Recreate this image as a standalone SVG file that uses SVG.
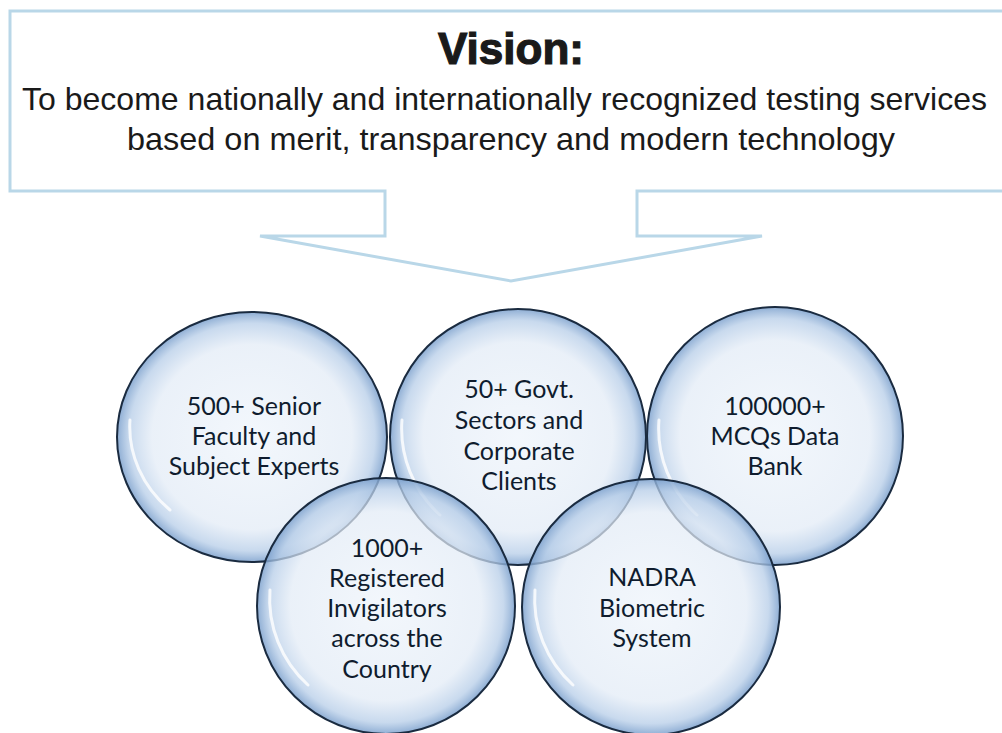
<svg xmlns="http://www.w3.org/2000/svg" width="1002" height="733" viewBox="0 0 1002 733">
<defs>
<radialGradient id="bub" cx="50%" cy="50%" r="50%">
<stop offset="0%" stop-color="#eef4fb" stop-opacity="0.72"/>
<stop offset="74%" stop-color="#e2ebf6" stop-opacity="0.72"/>
<stop offset="91%" stop-color="#b6cde8" stop-opacity="0.75"/>
<stop offset="100%" stop-color="#7a9fcc" stop-opacity="0.85"/>
</radialGradient>
</defs>
<style>
.box{fill:#ffffff;stroke:#b9d7e8;stroke-width:3}
.title{font-family:"Liberation Sans",Arial,sans-serif;font-weight:bold;font-size:44px;fill:#1a1a1a;stroke:#1a1a1a;stroke-width:1.2;text-anchor:middle}
.body{font-family:"Liberation Sans",Arial,sans-serif;font-size:32px;fill:#1a1a1a}
.bubble{fill:url(#bub);stroke:#1a2b40;stroke-width:2}
.gloss{fill:none;stroke:#ffffff;stroke-opacity:0.8;stroke-width:3;stroke-linecap:round}
.lbl{font-family:Lato,"Liberation Sans",sans-serif;font-size:25px;fill:#0f1c2e;text-anchor:middle}
</style>
<g id="vision">
<path class="box" d="M1005,11 H10 V191 H385 V236 H260 L511,281 L762,236 H637 V191 H1005"/>
<text class="title" x="511" y="64">Vision:</text>
<text class="body" x="22" y="110" textLength="965" lengthAdjust="spacingAndGlyphs">To become nationally and internationally recognized testing services</text>
<text class="body" x="127" y="150" textLength="768" lengthAdjust="spacingAndGlyphs">based on merit, transparency and modern technology</text>
</g>
<g id="connectors"></g>
<g id="node-faculty">
<ellipse class="bubble" cx="252" cy="437" rx="135" ry="125"/>
<path class="gloss" d="M130,420 A122,112 0 0 0 170,510"/>
<text class="lbl" x="254" y="415">500+ Senior</text>
<text class="lbl" x="254" y="445">Faculty and</text>
<text class="lbl" x="254" y="475">Subject Experts</text>
</g>
<g id="node-govt">
<ellipse class="bubble" cx="518" cy="437" rx="128" ry="128"/>
<path class="gloss" d="M402,420 A116,116 0 0 0 440,515"/>
<text class="lbl" x="519" y="398">50+ Govt.</text>
<text class="lbl" x="519" y="429">Sectors and</text>
<text class="lbl" x="519" y="460">Corporate</text>
<text class="lbl" x="519" y="490">Clients</text>
</g>
<g id="node-mcqs">
<ellipse class="bubble" cx="775" cy="436" rx="128" ry="129"/>
<path class="gloss" d="M659,420 A116,116 0 0 0 697,515"/>
<text class="lbl" x="775" y="415">100000+</text>
<text class="lbl" x="775" y="445">MCQs Data</text>
<text class="lbl" x="775" y="475">Bank</text>
</g>
<g id="node-invigilators">
<ellipse class="bubble" cx="386" cy="606" rx="129" ry="128"/>
<path class="gloss" d="M270,590 A116,116 0 0 0 308,685"/>
<text class="lbl" x="387" y="557">1000+</text>
<text class="lbl" x="387" y="587">Registered</text>
<text class="lbl" x="387" y="617">Invigilators</text>
<text class="lbl" x="387" y="647">across the</text>
<text class="lbl" x="387" y="678">Country</text>
</g>
<g id="node-nadra">
<ellipse class="bubble" cx="651" cy="607" rx="129" ry="128"/>
<path class="gloss" d="M535,590 A116,116 0 0 0 573,685"/>
<text class="lbl" x="652" y="586">NADRA</text>
<text class="lbl" x="652" y="617">Biometric</text>
<text class="lbl" x="652" y="647">System</text>
</g>
</svg>
